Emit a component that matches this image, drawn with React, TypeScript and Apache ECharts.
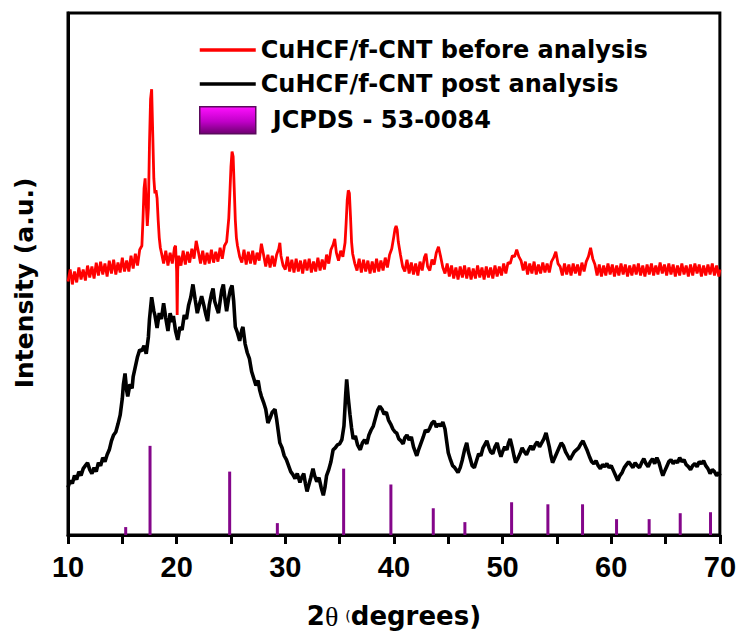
import React, { useEffect, useRef } from "react";
import * as echarts from "echarts";

const seriesNames = [
  "CuHCF/f-CNT before analysis",
  "CuHCF/f-CNT post analysis",
  "JCPDS - 53-0084",
];

const xMin = 10;
const xMax = 70;
const xStep = 5;
const yMin = 0;
const yMax = 527;

// 2θ (degrees), intensity (a.u.)
const beforeAnalysis: [number, number][] = [
  [10.0, 256], [10.2, 268], [10.4, 253], [10.6, 266], [10.8, 255], [11.0, 270], [11.2, 258], [11.4, 268], [11.6, 257], [11.8, 272],
  [12.0, 260], [12.2, 271], [12.4, 259], [12.6, 275], [12.8, 262], [13.0, 276], [13.2, 263], [13.4, 274], [13.6, 261], [13.8, 277],
  [14.0, 264], [14.2, 278], [14.4, 263], [14.6, 275], [14.8, 265], [15.0, 280], [15.2, 266], [15.4, 277], [15.6, 266], [15.8, 282],
  [16.0, 269], [16.2, 284], [16.4, 272], [16.6, 288], [16.8, 292], [16.9, 318], [17.0, 350], [17.1, 360], [17.2, 335], [17.3, 312],
  [17.4, 330], [17.5, 395], [17.6, 440], [17.7, 450], [17.8, 405], [17.9, 360], [18.0, 345], [18.1, 348], [18.2, 340], [18.3, 318],
  [18.4, 300], [18.5, 290], [18.6, 285], [18.8, 274], [19.0, 287], [19.2, 272], [19.4, 285], [19.6, 274], [19.8, 290], [19.9, 292],
  [20.0, 266], [20.05, 222], [20.1, 268], [20.2, 282], [20.4, 272], [20.6, 287], [20.8, 273], [21.0, 286], [21.2, 275], [21.4, 289],
  [21.6, 279], [21.8, 297], [22.0, 286], [22.2, 274], [22.4, 287], [22.6, 273], [22.8, 285], [23.0, 274], [23.2, 288], [23.4, 275],
  [23.6, 286], [23.8, 276], [24.0, 290], [24.2, 279], [24.4, 292], [24.6, 296], [24.8, 320], [24.9, 345], [25.0, 372], [25.1, 387],
  [25.2, 382], [25.3, 350], [25.4, 318], [25.5, 300], [25.6, 292], [25.8, 281], [26.0, 275], [26.2, 288], [26.4, 273], [26.6, 286],
  [26.8, 274], [27.0, 287], [27.2, 273], [27.4, 285], [27.6, 277], [27.8, 294], [28.0, 283], [28.2, 271], [28.4, 283], [28.6, 270],
  [28.8, 282], [29.0, 271], [29.2, 283], [29.4, 289], [29.5, 295], [29.6, 282], [29.8, 272], [30.0, 268], [30.2, 281], [30.4, 266],
  [30.6, 278], [30.8, 265], [31.0, 279], [31.2, 266], [31.4, 277], [31.6, 264], [31.8, 278], [32.0, 267], [32.2, 279], [32.4, 265],
  [32.6, 276], [32.8, 266], [33.0, 280], [33.2, 267], [33.4, 278], [33.6, 268], [33.8, 283], [34.0, 274], [34.2, 288], [34.4, 293],
  [34.55, 299], [34.7, 285], [34.9, 277], [35.1, 287], [35.3, 281], [35.5, 295], [35.6, 315], [35.7, 338], [35.8, 348], [35.9, 345],
  [36.0, 322], [36.1, 296], [36.2, 284], [36.4, 274], [36.6, 267], [36.8, 279], [37.0, 265], [37.2, 278], [37.4, 266], [37.6, 277],
  [37.8, 264], [38.0, 276], [38.2, 265], [38.4, 279], [38.6, 266], [38.8, 277], [39.0, 267], [39.2, 280], [39.4, 270], [39.6, 283],
  [39.8, 289], [40.0, 302], [40.1, 309], [40.2, 312], [40.3, 308], [40.4, 296], [40.6, 283], [40.8, 271], [41.0, 266], [41.2, 278],
  [41.4, 264], [41.6, 275], [41.8, 263], [42.0, 274], [42.2, 262], [42.4, 276], [42.6, 267], [42.8, 280], [42.95, 284], [43.1, 271],
  [43.3, 267], [43.5, 278], [43.7, 273], [43.9, 285], [44.1, 291], [44.3, 281], [44.5, 270], [44.7, 264], [44.9, 274], [45.1, 261],
  [45.3, 272], [45.5, 259], [45.7, 270], [45.9, 258], [46.1, 271], [46.3, 260], [46.5, 272], [46.7, 259], [46.9, 270], [47.1, 258],
  [47.3, 269], [47.5, 259], [47.7, 272], [47.9, 260], [48.1, 270], [48.3, 258], [48.5, 271], [48.7, 260], [48.9, 270], [49.1, 259],
  [49.3, 272], [49.5, 261], [49.7, 271], [49.9, 262], [50.1, 274], [50.3, 264], [50.5, 275], [50.7, 274], [50.9, 282], [51.1, 281],
  [51.3, 288], [51.5, 281], [51.7, 277], [51.9, 267], [52.1, 276], [52.3, 263], [52.5, 274], [52.7, 264], [52.9, 276], [53.1, 263],
  [53.3, 273], [53.5, 264], [53.7, 275], [53.9, 265], [54.1, 274], [54.3, 265], [54.5, 276], [54.7, 280], [54.9, 286], [55.1, 274],
  [55.3, 271], [55.5, 262], [55.7, 274], [55.9, 263], [56.1, 273], [56.3, 262], [56.5, 274], [56.7, 264], [56.9, 273], [57.1, 262],
  [57.3, 275], [57.5, 266], [57.7, 276], [57.9, 281], [58.1, 290], [58.3, 279], [58.5, 273], [58.7, 262], [58.9, 273], [59.1, 261],
  [59.3, 272], [59.5, 262], [59.7, 274], [59.9, 263], [60.1, 273], [60.3, 261], [60.5, 272], [60.7, 262], [60.9, 274], [61.1, 263],
  [61.3, 273], [61.5, 261], [61.7, 272], [61.9, 262], [62.1, 273], [62.3, 263], [62.5, 274], [62.7, 262], [62.9, 272], [63.1, 261],
  [63.3, 273], [63.5, 263], [63.7, 274], [63.9, 262], [64.1, 272], [64.3, 263], [64.5, 275], [64.7, 264], [64.9, 273], [65.1, 262],
  [65.3, 274], [65.5, 263], [65.7, 273], [65.9, 261], [66.1, 272], [66.3, 262], [66.5, 274], [66.7, 263], [66.9, 272], [67.1, 261],
  [67.3, 273], [67.5, 262], [67.7, 274], [67.9, 264], [68.1, 273], [68.3, 261], [68.5, 272], [68.7, 262], [68.9, 273], [69.1, 263],
  [69.3, 274], [69.5, 262], [69.7, 272], [69.9, 261], [70.0, 268],
];

const postAnalysis: [number, number][] = [
  [10.0, 48], [10.2, 55], [10.4, 52], [10.6, 60], [10.8, 56], [11.0, 64], [11.2, 60], [11.4, 67], [11.6, 70], [11.8, 73],
  [12.0, 66], [12.2, 62], [12.4, 68], [12.6, 64], [12.8, 73], [13.0, 70], [13.2, 78], [13.4, 74], [13.6, 81], [13.8, 86],
  [14.0, 95], [14.2, 101], [14.4, 104], [14.6, 112], [14.8, 121], [15.0, 138], [15.1, 152], [15.25, 163], [15.4, 146], [15.5, 140],
  [15.7, 152], [15.9, 148], [16.0, 160], [16.2, 170], [16.4, 180], [16.6, 187], [16.8, 186], [17.0, 191], [17.2, 183], [17.4, 200],
  [17.5, 218], [17.7, 240], [17.9, 226], [18.0, 222], [18.2, 209], [18.4, 224], [18.6, 218], [18.8, 234], [19.0, 219], [19.2, 206],
  [19.4, 224], [19.6, 215], [19.7, 221], [19.9, 206], [20.1, 197], [20.3, 210], [20.5, 207], [20.7, 222], [20.9, 218], [21.1, 232],
  [21.3, 240], [21.5, 253], [21.7, 238], [21.9, 224], [22.1, 233], [22.3, 241], [22.5, 232], [22.7, 222], [22.85, 216], [23.0, 232],
  [23.2, 243], [23.35, 249], [23.5, 236], [23.7, 229], [23.85, 224], [24.0, 236], [24.15, 247], [24.3, 253], [24.45, 238], [24.6, 226],
  [24.8, 240], [24.95, 248], [25.1, 252], [25.25, 236], [25.4, 210], [25.6, 204], [25.8, 196], [26.0, 207], [26.1, 210], [26.3, 193],
  [26.5, 184], [26.7, 178], [26.9, 165], [27.1, 158], [27.3, 151], [27.5, 156], [27.65, 146], [27.8, 140], [28.0, 134], [28.2, 127],
  [28.4, 113], [28.6, 118], [28.8, 124], [29.05, 127], [29.2, 117], [29.35, 105], [29.5, 93], [29.7, 88], [29.9, 80], [30.1, 76],
  [30.3, 70], [30.5, 64], [30.7, 61], [30.9, 57], [31.1, 62], [31.35, 53], [31.5, 58], [31.7, 62], [31.85, 52], [32.0, 44],
  [32.15, 50], [32.35, 58], [32.55, 67], [32.7, 60], [32.9, 54], [33.1, 58], [33.3, 48], [33.5, 40], [33.65, 48], [33.8, 60],
  [34.0, 66], [34.2, 74], [34.4, 86], [34.6, 88], [34.8, 91], [35.0, 92], [35.2, 96], [35.4, 110], [35.55, 140], [35.65, 157],
  [35.8, 138], [35.95, 122], [36.1, 108], [36.25, 97], [36.45, 100], [36.65, 91], [36.9, 86], [37.1, 93], [37.3, 96], [37.5, 92],
  [37.7, 101], [37.9, 106], [38.1, 110], [38.3, 118], [38.5, 126], [38.7, 130], [38.9, 127], [39.1, 122], [39.3, 124], [39.5, 116],
  [39.7, 112], [39.9, 107], [40.1, 104], [40.25, 103], [40.45, 97], [40.65, 95], [40.85, 92], [41.0, 98], [41.2, 101], [41.4, 96],
  [41.6, 99], [41.8, 89], [42.0, 83], [42.1, 80], [42.3, 87], [42.5, 93], [42.7, 99], [42.9, 106], [43.1, 104], [43.3, 108],
  [43.5, 113], [43.7, 115], [43.9, 109], [44.1, 112], [44.3, 110], [44.5, 114], [44.7, 107], [44.85, 95], [45.0, 83], [45.2, 76],
  [45.4, 70], [45.6, 68], [45.9, 63], [46.1, 68], [46.3, 76], [46.5, 86], [46.7, 93], [46.85, 84], [47.0, 78], [47.2, 70],
  [47.4, 68], [47.6, 75], [47.8, 82], [48.0, 80], [48.2, 88], [48.4, 92], [48.55, 95], [48.75, 88], [48.9, 84], [49.1, 82],
  [49.3, 89], [49.5, 93], [49.7, 84], [49.85, 79], [50.0, 84], [50.2, 89], [50.4, 86], [50.55, 93], [50.7, 97], [50.9, 88],
  [51.05, 80], [51.2, 73], [51.4, 77], [51.6, 82], [51.8, 88], [52.0, 84], [52.2, 81], [52.4, 86], [52.6, 90], [52.8, 86],
  [53.0, 91], [53.2, 94], [53.4, 89], [53.6, 93], [53.8, 97], [54.0, 103], [54.15, 96], [54.3, 89], [54.45, 80], [54.6, 73],
  [54.8, 78], [55.0, 83], [55.2, 88], [55.4, 93], [55.6, 90], [55.8, 84], [56.0, 80], [56.2, 76], [56.4, 80], [56.6, 84],
  [56.8, 86], [57.0, 88], [57.2, 92], [57.4, 95], [57.6, 90], [57.8, 85], [58.0, 79], [58.2, 74], [58.4, 72], [58.6, 75],
  [58.8, 70], [59.0, 67], [59.2, 71], [59.4, 69], [59.6, 72], [59.8, 68], [60.0, 70], [60.2, 65], [60.4, 60], [60.6, 55],
  [60.8, 60], [61.0, 63], [61.2, 68], [61.4, 71], [61.6, 74], [61.8, 71], [62.0, 68], [62.2, 73], [62.4, 70], [62.6, 68],
  [62.8, 73], [63.0, 77], [63.2, 72], [63.4, 69], [63.6, 74], [63.8, 77], [64.0, 72], [64.2, 78], [64.4, 73], [64.6, 65],
  [64.75, 60], [64.9, 64], [65.1, 69], [65.3, 74], [65.5, 76], [65.7, 72], [65.9, 75], [66.1, 73], [66.3, 78], [66.5, 74],
  [66.7, 76], [66.9, 71], [67.1, 69], [67.3, 66], [67.5, 70], [67.7, 72], [67.9, 69], [68.1, 74], [68.3, 72], [68.5, 75],
  [68.7, 70], [68.9, 67], [69.1, 62], [69.3, 66], [69.5, 64], [69.7, 60], [69.9, 63], [70.0, 60],
];

// JCPDS 53-0084 reference reflections
const jcpdsPositions = [15.31, 17.55, 24.88, 29.27, 35.37, 39.72, 43.62, 46.53, 50.83, 54.17, 57.36, 60.49, 63.49, 66.35, 69.14];
const jcpdsHeights = [8, 90, 64, 12, 67, 51, 27, 13, 33, 31, 31, 16, 16, 22, 23];

const BOLD_SANS = "'DejaVu Sans', 'Liberation Sans', Arial, sans-serif";
const ARIAL = "'Liberation Sans', Arial, sans-serif";
const LINE_ICON = "path://M0,0H56V3.6H0Z";

export default function App() {
  const ref = useRef<HTMLDivElement | null>(null);

  useEffect(() => {
    if (!ref.current) return;
    const chart = echarts.init(ref.current, null, { renderer: "svg" });

    const legendGradient = new echarts.graphic.LinearGradient(0, 0, 0, 1, [
      { offset: 0, color: "#ff10ff" },
      { offset: 0.55, color: "#c000c8" },
      { offset: 1, color: "#6e0070" },
    ]);

    const option: any = {
      animation: false,
      backgroundColor: "#ffffff",
      grid: {
        left: 68,
        right: 19,
        top: 13,
        bottom: 95,
        show: true,
        borderColor: "#000",
        borderWidth: 3,
      },
      legend: {
        orient: "vertical",
        left: 194,
        top: 33,
        itemWidth: 56,
        itemHeight: 27,
        itemGap: 10,
        selectedMode: false,
        symbolKeepAspect: true,
        textStyle: {
          fontFamily: BOLD_SANS,
          fontWeight: "bold",
          fontSize: 24,
          color: "#000",
          rich: {
            j: {
              fontFamily: BOLD_SANS,
              fontWeight: "bold",
              fontSize: 24,
              color: "#000",
              padding: [0, 0, 0, 12],
            },
          },
        },
        formatter: (name: string) => (name === seriesNames[2] ? `{j|${name}}` : name),
        data: [
          { name: seriesNames[0], icon: LINE_ICON, itemStyle: { color: "#ff0000" } },
          { name: seriesNames[1], icon: LINE_ICON, itemStyle: { color: "#000000" } },
          {
            name: seriesNames[2],
            icon: "rect",
            itemStyle: { color: legendGradient, borderColor: "#5a0a5c", borderWidth: 1.5 },
          },
        ],
      },
      xAxis: {
        type: "value",
        min: xMin,
        max: xMax,
        interval: xStep,
        name: "{a|2}{b|θ }{c|(}{a|degrees)}",
        nameLocation: "middle",
        nameGap: 67,
        nameTextStyle: {
          rich: {
            a: { fontFamily: BOLD_SANS, fontWeight: "bold", fontSize: 26, color: "#000" },
            b: { fontFamily: "'Liberation Serif', 'DejaVu Serif', serif", fontSize: 28, color: "#000" },
            c: { fontFamily: BOLD_SANS, fontSize: 14, color: "#000" },
          },
        },
        axisLine: { show: true, onZero: false, lineStyle: { color: "#000", width: 3 } },
        axisTick: { show: true, inside: false, length: 9, lineStyle: { color: "#000", width: 3 } },
        axisLabel: {
          margin: 17,
          fontFamily: ARIAL,
          fontWeight: "bold",
          fontSize: 29,
          color: "#000",
          formatter: (v: number) => (v % 10 === 0 ? String(v) : ""),
        },
        splitLine: { show: false },
      },
      yAxis: {
        type: "value",
        min: yMin,
        max: yMax,
        name: "Intensity (a.u.)",
        nameLocation: "middle",
        nameRotate: 90,
        nameGap: 31,
        nameTextStyle: {
          fontFamily: BOLD_SANS,
          fontWeight: "bold",
          fontSize: 25,
          color: "#000",
          padding: [0, 18, 0, 0],
        },
        axisLine: { show: true, lineStyle: { color: "#000", width: 3 } },
        axisTick: { show: false },
        axisLabel: { show: false },
        splitLine: { show: false },
      },
      series: [
        {
          name: seriesNames[1],
          type: "line",
          data: postAnalysis,
          showSymbol: false,
          symbol: "none",
          lineStyle: { color: "#000", width: 3.6 },
          itemStyle: { color: "#000" },
          z: 3,
        },
        {
          name: seriesNames[0],
          type: "line",
          data: beforeAnalysis,
          showSymbol: false,
          symbol: "none",
          lineStyle: { color: "#ff0000", width: 2.8 },
          itemStyle: { color: "#ff0000" },
          z: 4,
        },
        {
          name: seriesNames[2],
          type: "bar",
          data: jcpdsPositions.map((p, i) => [p, jcpdsHeights[i]]),
          barWidth: 3,
          itemStyle: { color: "#84068a" },
          z: 2,
        },
      ],
    };

    chart.setOption(option);
    return () => chart.dispose();
  }, []);

  return (
    <div
      ref={ref}
      style={{ position: "fixed", left: 0, top: 0, width: 739, height: 635, background: "#fff" }}
    />
  );
}
